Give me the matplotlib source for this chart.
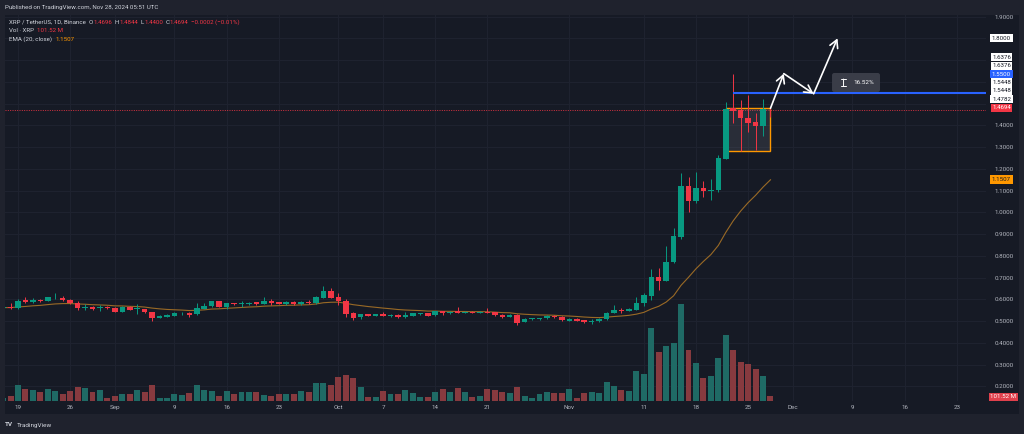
import matplotlib
matplotlib.use('Agg')
import matplotlib.pyplot as plt
import matplotlib.dates as mdates
import matplotlib.transforms as mtransforms
from matplotlib.patches import Rectangle, FancyBboxPatch
import numpy as np
import pandas as pd

plt.rcParams['font.family'] = ['Roboto', 'DejaVu Sans']

# ---------------- data ----------------
dates = pd.date_range('2024-08-17', '2024-11-28', freq='D')
opens = [0.561, 0.565, 0.559, 0.595, 0.589, 0.598, 0.594, 0.604, 0.607, 0.595, 0.584, 0.561, 0.565, 0.559, 0.565,
         0.561, 0.543, 0.565, 0.555, 0.554, 0.540, 0.515, 0.520, 0.525, 0.535, 0.537, 0.531, 0.555, 0.568, 0.591,
         0.566, 0.583, 0.578, 0.578, 0.586, 0.580, 0.594, 0.586, 0.577, 0.588, 0.578, 0.589, 0.582, 0.607, 0.638,
         0.609, 0.592, 0.536, 0.517, 0.531, 0.525, 0.531, 0.523, 0.528, 0.519, 0.525, 0.532, 0.536, 0.526, 0.545,
         0.536, 0.545, 0.537, 0.543, 0.537, 0.543, 0.540, 0.528, 0.520, 0.528, 0.496, 0.508, 0.509, 0.513, 0.523,
         0.519, 0.502, 0.509, 0.505, 0.496, 0.499, 0.508, 0.537, 0.551, 0.546, 0.552, 0.582, 0.617, 0.703, 0.686,
         0.770, 0.888, 1.121, 1.051, 1.113, 1.098, 1.102, 1.246, 1.479, 1.470, 1.435, 1.416, 1.398, 1.4696]
highs = [0.564, 0.582, 0.601, 0.609, 0.605, 0.601, 0.612, 0.628, 0.613, 0.600, 0.592, 0.578, 0.569, 0.572, 0.567,
         0.566, 0.567, 0.567, 0.577, 0.557, 0.543, 0.526, 0.531, 0.540, 0.542, 0.540, 0.584, 0.584, 0.593, 0.593,
         0.584, 0.585, 0.591, 0.587, 0.589, 0.609, 0.600, 0.589, 0.590, 0.590, 0.590, 0.597, 0.614, 0.663, 0.651,
         0.628, 0.600, 0.543, 0.534, 0.533, 0.533, 0.540, 0.533, 0.531, 0.542, 0.538, 0.538, 0.538, 0.547, 0.547,
         0.546, 0.563, 0.546, 0.545, 0.546, 0.559, 0.543, 0.531, 0.532, 0.531, 0.512, 0.515, 0.516, 0.526, 0.526,
         0.521, 0.514, 0.512, 0.507, 0.509, 0.512, 0.540, 0.574, 0.559, 0.558, 0.612, 0.630, 0.738, 0.744, 0.845,
         0.929, 1.179, 1.164, 1.185, 1.145, 1.152, 1.263, 1.505, 1.6376, 1.516, 1.539, 1.456, 1.520, 1.4844]
lows = [0.559, 0.555, 0.555, 0.582, 0.582, 0.589, 0.591, 0.601, 0.592, 0.578, 0.551, 0.551, 0.551, 0.546, 0.557,
        0.541, 0.540, 0.549, 0.531, 0.538, 0.500, 0.513, 0.518, 0.523, 0.528, 0.520, 0.529, 0.554, 0.566, 0.564,
        0.557, 0.575, 0.563, 0.576, 0.575, 0.578, 0.574, 0.578, 0.575, 0.575, 0.576, 0.580, 0.580, 0.605, 0.605,
        0.574, 0.520, 0.505, 0.508, 0.522, 0.522, 0.522, 0.518, 0.516, 0.516, 0.522, 0.530, 0.522, 0.524, 0.528,
        0.533, 0.535, 0.535, 0.535, 0.535, 0.535, 0.524, 0.513, 0.518, 0.483, 0.494, 0.506, 0.507, 0.511, 0.515,
        0.501, 0.4995, 0.4995, 0.490, 0.486, 0.4975, 0.506, 0.535, 0.538, 0.544, 0.550, 0.571, 0.597, 0.643, 0.683,
        0.768, 0.877, 1.003, 1.045, 1.069, 1.057, 1.094, 1.244, 1.409, 1.283, 1.371, 1.287, 1.351, 1.4400]
closes = [0.562, 0.559, 0.594, 0.589, 0.598, 0.592, 0.609, 0.608, 0.595, 0.582, 0.561, 0.565, 0.555, 0.563, 0.560,
          0.543, 0.565, 0.551, 0.559, 0.540, 0.515, 0.523, 0.528, 0.537, 0.537, 0.528, 0.559, 0.571, 0.591, 0.566,
          0.582, 0.577, 0.582, 0.584, 0.577, 0.594, 0.582, 0.580, 0.588, 0.577, 0.588, 0.582, 0.612, 0.638, 0.607,
          0.592, 0.531, 0.515, 0.531, 0.525, 0.531, 0.525, 0.528, 0.519, 0.529, 0.536, 0.536, 0.525, 0.545, 0.536,
          0.543, 0.537, 0.543, 0.537, 0.543, 0.537, 0.526, 0.519, 0.529, 0.492, 0.509, 0.513, 0.514, 0.523, 0.517,
          0.503, 0.511, 0.502, 0.494, 0.499, 0.509, 0.537, 0.549, 0.546, 0.555, 0.583, 0.618, 0.703, 0.686, 0.772,
          0.891, 1.121, 1.051, 1.112, 1.097, 1.102, 1.248, 1.476, 1.468, 1.432, 1.412, 1.398, 1.474, 1.4694]
volumes = [61, 102, 318, 244, 223, 176, 244, 203, 142, 203, 278, 257, 176, 217, 54,
           102, 149, 149, 223, 183, 318, 68, 61, 142, 115, 162, 318, 223, 196, 108,
           203, 142, 176, 183, 183, 122, 102, 142, 142, 149, 196, 190, 359, 359, 332,
           481, 521, 467, 291, 88, 74, 203, 142, 142, 223, 162, 81, 81, 190, 244,
           190, 264, 190, 81, 102, 244, 223, 176, 162, 291, 102, 61, 135, 190, 156,
           162, 244, 61, 156, 176, 162, 379, 298, 223, 203, 603, 555, 1476, 1002, 1117,
           1178, 1963, 1029, 779, 474, 508, 873, 1334, 1029, 799, 758, 650, 508, 101.52]

tick_dates = ['2024-08-19', '2024-08-26', '2024-09-01', '2024-09-09', '2024-09-16', '2024-09-23',
              '2024-10-01', '2024-10-07', '2024-10-14', '2024-10-21', '2024-11-01', '2024-11-11',
              '2024-11-18', '2024-11-25', '2024-12-01', '2024-12-09', '2024-12-16', '2024-12-23']
tick_labels = ['19', '26', 'Sep', '9', '16', '23', 'Oct', '7', '14', '21', 'Nov', '11', '18', '25',
               'Dec', '9', '16', '23']
price_ticks = [0.2, 0.3, 0.4, 0.5, 0.6, 0.7, 0.8, 0.9, 1.0, 1.1, 1.2, 1.3, 1.4, 1.5, 1.6, 1.7, 1.8, 1.9]
hidden_price_ticks = [1.5, 1.6, 1.7, 1.8]

box_start, box_end = '2024-11-22', '2024-11-28'
box_low, box_high = 1.2832, 1.4782
level_price, level_start = 1.5500, '2024-11-23'
last_price = 1.4694
ema_last_text = '1.1507'
path_dates = ['2024-11-28', '2024-11-29 19:00', '2024-12-03 19:00', '2024-12-07']
path_prices = [1.4782, 1.6376, 1.5448, 1.8000]
measure_text = '16.52%'
stack_labels = [1.4694, 1.4782, 1.5448, 1.5448, 1.5500, 1.6376, 1.6376]
stack_kinds = ['last', 'w', 'w', 'w', 'level', 'w', 'w']

# ---------------- style ----------------
W, H = 1024, 434
OUTER = '#1f222d'
PANE = '#161a25'
GRID = '#1f2330'
TXT = '#b2b5be'
UP, DN = '#089981', '#f23645'
VUP, VDN = '#1f6a65', '#873a3f'
ORANGE = '#ff9800'

fig = plt.figure(figsize=(W / 100, H / 100), dpi=100, facecolor=OUTER)


def fx(px):
    return px / W


def fy(py):
    return 1 - py / H


fig.patches.append(Rectangle((fx(5), fy(414)), (1019 - 5) / W, (414 - 15) / H,
                             transform=fig.transFigure, facecolor=PANE, edgecolor='none', zorder=-10))

ax = fig.add_axes([fx(5), fy(401), (986 - 5) / W, (401 - 15) / H])
ax.set_facecolor('none')
for s in ax.spines.values():
    s.set_visible(False)


def dn(s):
    return mdates.date2num(pd.Timestamp(s))


x = mdates.date2num(dates)
o = np.array(opens); h = np.array(highs); l = np.array(lows); c = np.array(closes)
v = np.array(volumes)
up = c >= o
ccol = np.where(up, UP, DN)

x_ref = dn('2024-08-19')
xlim = (x_ref - 1.745, x_ref + 129.93)
ylim = (0.1324, 1.9071)

# volume bars (bottom overlay)
vtrans = mtransforms.blended_transform_factory(ax.transData, ax.transAxes)
vol_top = v.max() / 0.2505
ax.bar(x, v / vol_top, width=0.8, bottom=0, color=np.where(up, VUP, VDN), transform=vtrans, zorder=1)

# EMA
ema = pd.Series(c).ewm(span=20, adjust=False).mean().values
ax.plot(x, ema, color='#9a6a26', lw=0.8, zorder=2)

# box
ax.add_patch(Rectangle((dn(box_start), box_low), dn(box_end) - dn(box_start), box_high - box_low,
                       facecolor=(0.47, 0.48, 0.53, 0.2), edgecolor=ORANGE, lw=1.0, zorder=2.5))

# candles
ax.vlines(x, l, h, colors=ccol, lw=0.7, zorder=3)
body_h = np.maximum(np.abs(c - o), 0.003)
ax.bar(x, body_h, bottom=np.minimum(o, c), width=0.74, color=ccol, zorder=3.5)

# last price dotted line
ax.axhline(last_price, color=DN, lw=0.6, ls=(0, (1.2, 1.6)), zorder=2)
# level line
ax.hlines(level_price, dn(level_start), xlim[1], color='#2962ff', lw=1.5, zorder=4)

# arrows path
pts = [(dn(d), p) for d, p in zip(path_dates, path_prices)]
for a, b in zip(pts[:-1], pts[1:]):
    ax.annotate('', xy=b, xytext=a,
                arrowprops=dict(arrowstyle='->,head_length=0.55,head_width=0.3', color='white', lw=1.2,
                                shrinkA=0, shrinkB=0), zorder=5)

# measure label
mx0, mx1 = x_ref + (832 - 18) / 7.45, x_ref + (880 - 18) / 7.45
my0, my1 = 1 + (212.3 - 92) / 217.5, 1 + (212.3 - 73) / 217.5
ax.add_patch(FancyBboxPatch((mx0, my0), mx1 - mx0, my1 - my0,
                            boxstyle='round,pad=0,rounding_size=0.3', mutation_aspect=0.0343,
                            facecolor='#3a3d48', edgecolor='none', zorder=5))
# small I-beam icon (symbol drawn as a shape)
icx = mx0 + (mx1 - mx0) * 0.24
icy = (my0 + my1) / 2
ax.annotate('', xy=(icx, icy - 0.016), xytext=(icx, icy + 0.016),
            arrowprops=dict(arrowstyle='|-|,widthA=0.15,widthB=0.15', color='white', lw=0.7,
                            shrinkA=0, shrinkB=0), zorder=6)
ax.text(mx0 + (mx1 - mx0) * 0.66, (my0 + my1) / 2, measure_text, color='white', fontsize=4.6,
        ha='center', va='center', zorder=6)

# axes formatting
ax.set_xlim(*xlim)
ax.set_ylim(*ylim)
ax.set_xticks([dn(d) for d in tick_dates])
ax.set_xticklabels(tick_labels)
ax.set_yticks(price_ticks)
ax.set_yticklabels(['' if t in hidden_price_ticks else f'{t:.4f}' for t in price_ticks])
ax.yaxis.tick_right()
ax.tick_params(axis='x', length=0, pad=3, labelsize=4.5, labelcolor=TXT)
ax.tick_params(axis='y', length=0, pad=6, labelsize=4.5, labelcolor=TXT)
ax.grid(True, color=GRID, lw=0.7, zorder=0)
ax.set_axisbelow(True)

# right side price labels
ytrans = mtransforms.blended_transform_factory(ax.transAxes, ax.transData)
lx = (1001.5 - 5) / 981


def plabel(yv, text, fc, tc):
    ax.text(lx, yv, text, transform=ytrans, ha='center', va='center', fontsize=4.4, color=tc,
            bbox=dict(boxstyle='square,pad=0.25', fc=fc, ec='none'), clip_on=False, zorder=10)


plabel(1.8000, '1.8000', 'white', '#131722')
plabel(1.1507, ema_last_text, ORANGE, '#131722')
kind_style = {'last': (DN, 'white'), 'w': ('white', '#131722'), 'level': ('#2962ff', 'white')}
for i, (val, kind) in enumerate(zip(stack_labels, stack_kinds)):
    fc, tc = kind_style[kind]
    plabel(1.4809 + i * 0.0386, f'{val:.4f}', fc, tc)
ax.text(lx + 0.002, (401 - 397) / 386, '101.52 M', transform=ax.transAxes, ha='center', va='center',
        fontsize=4.4, color='white', bbox=dict(boxstyle='square,pad=0.25', fc='#e0404c', ec='none'),
        clip_on=False, zorder=10)

# header texts
renderer = fig.canvas.get_renderer()


def seq_text(x_px, y_px, parts, size=4.45, weight='normal'):
    xx = x_px
    for s, col, gap in parts:
        t = fig.text(fx(xx), fy(y_px), s, color=col, fontsize=size, ha='left', va='center', fontweight=weight)
        bb = t.get_window_extent(renderer)
        xx = bb.x1 + gap


seq_text(5, 7, [('Published on TradingView.com, Nov 28, 2024 05:51 UTC', '#d1d4dc', 0)])
seq_text(9, 22, [('XRP / TetherUS, 1D, Binance', '#d1d4dc', 3), ('O', '#d1d4dc', 0.3), ('1.4696', DN, 2.5),
                 ('H', '#d1d4dc', 0.3), ('1.4844', DN, 2.5), ('L', '#d1d4dc', 0.3), ('1.4400', DN, 2.5),
                 ('C', '#d1d4dc', 0.3), ('1.4694', DN, 2.5), ('−0.0002 (−0.01%)', DN, 0)])
seq_text(9, 31, [('Vol · XRP', '#d1d4dc', 3), ('101.52 M', DN, 0)])
seq_text(9, 39.5, [('EMA (20, close)', '#d1d4dc', 3), (ema_last_text, ORANGE, 0)])
seq_text(5, 425, [('TV', '#d1d4dc', 2)], size=4.6, weight='bold')
seq_text(17, 425, [('TradingView', '#d1d4dc', 0)], size=4.6)

fig.savefig('out.png', dpi=100, facecolor=OUTER)
